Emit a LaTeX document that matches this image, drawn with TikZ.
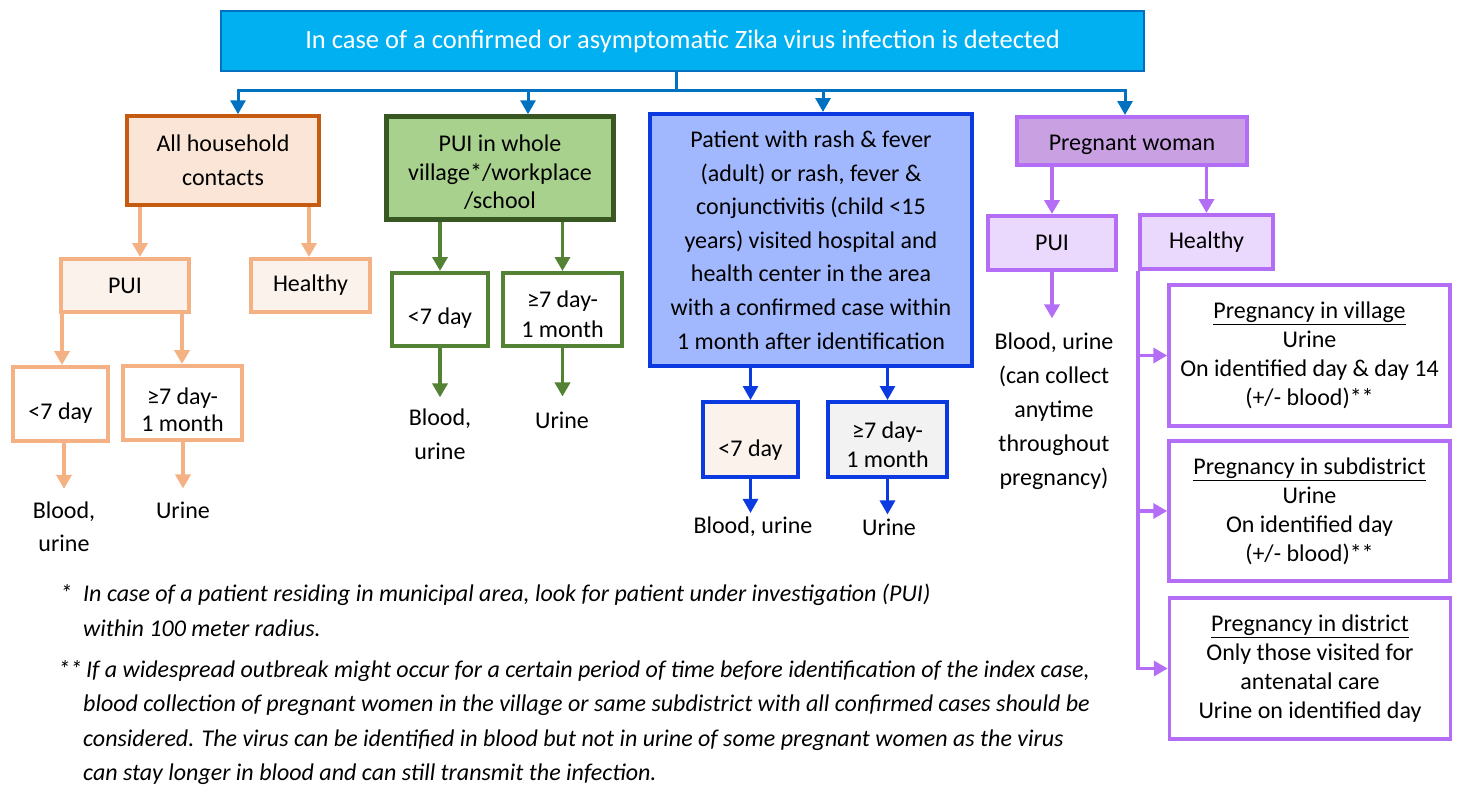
\documentclass[tikz,border=0pt]{standalone}
\usepackage{fontspec}
\setmainfont{Carlito}
\usepackage{tikz}
\usetikzlibrary{arrows.meta}
\definecolor{zfill}{HTML}{00B0F0}
\definecolor{zline}{HTML}{0070C0}
\definecolor{hhfill}{HTML}{FBE5D6}
\definecolor{hhline}{HTML}{C55A11}
\definecolor{olight}{HTML}{F4B183}
\definecolor{ofill}{HTML}{FCF2EC}
\definecolor{gfill}{HTML}{A9D18E}
\definecolor{gdark}{HTML}{385723}
\definecolor{gline}{HTML}{548235}
\definecolor{bfill}{HTML}{A2B8FE}
\definecolor{bline}{HTML}{0B3BE0}
\definecolor{bgrey}{HTML}{F2F2F2}
\definecolor{pline}{HTML}{B46EF6}
\definecolor{pwfill}{HTML}{C9A1E3}
\definecolor{pfill}{HTML}{EAD9FD}

\begin{document}
\begin{tikzpicture}[x=1pt,y=-1pt,
    every node/.style={font=\fontsize{24}{34}\selectfont,align=center,inner sep=0pt},
    arr/.style={line width=3pt,-{Triangle[width=15pt,length=14pt]}},
    zarr/.style={arr,draw=zline},
    oarr/.style={arr,draw=olight,line width=3.5pt},
    garr/.style={arr,draw=gline,line width=3.5pt},
    barr/.style={arr,draw=bline},
    parr/.style={arr,draw=pline,line width=3.5pt},
    obox/.style={draw=olight,fill=ofill,line width=4pt},
    gbox/.style={draw=gline,fill=white,line width=4pt,font=\fontsize{24}{30}\selectfont},
    bsmall/.style={draw=bline,line width=4pt,font=\fontsize{24}{29}\selectfont},
    pbox/.style={draw=pline,fill=pfill,line width=4pt},
    pcase/.style={draw=pline,fill=white,line width=3.5pt,font=\fontsize{24}{29}\selectfont,
      minimum width=281pt,minimum height=141pt},
    note/.style={anchor=north west,align=left,font=\itshape\fontsize{24}{34.5}\selectfont}
  ]
  \useasboundingbox (0,0) rectangle (1458,790);

  % top box
  \node[draw=zline,fill=zfill,line width=2pt,text=white,font=\fontsize{26.5}{32}\selectfont,
        minimum width=923pt,minimum height=60pt] (top) at (682.5,41)
        {In case of a confirmed or asymptomatic Zika virus infection is detected};
  \coordinate (bus) at (676,90);

  % household contacts
  \node[draw=hhline,fill=hhfill,line width=3.5pt,minimum width=192pt,minimum height=89pt]
        (hh) at (223,160.5) {All household\\contacts};
  \node[obox,minimum width=128pt,minimum height=53pt] (opui) at (125,285.5) {PUI};
  \node[obox,minimum width=119pt,minimum height=53pt] (ohl) at (310.5,285.5) {Healthy};
  \node[obox,fill=white,minimum width=95pt,minimum height=74pt] (olt) at (60.5,404)
        {\rule{0pt}{34pt}<7 day};
  \node[obox,fill=white,minimum width=119pt,minimum height=74pt,
        font=\fontsize{24}{27}\selectfont] (oge) at (182.5,403) {\rule{0pt}{31pt}≥7 day-\\1 month};
  \node[font=\fontsize{24}{33}\selectfont] (ob) at (64,527) {Blood,\\urine};
  \node (ou) at (183,510) {Urine};

  % whole village
  \node[draw=gdark,fill=gfill,line width=4.5pt,minimum width=227pt,minimum height=103pt,
        font=\fontsize{24}{28.5}\selectfont] (gv) at (500,168)
        {\rule{0pt}{25.5pt}PUI in whole\\village*/workplace\\/school};
  \node[gbox,minimum width=96pt,minimum height=73pt] (glt) at (440,309.5) {\rule{0pt}{33pt}<7 day};
  \node[gbox,minimum width=119pt,minimum height=73pt] (gge) at (562.5,309.5)
        {\rule{0pt}{26pt}≥7 day-\\1 month};
  \node (gb) at (440,434) {Blood,\\urine};
  \node (gu) at (562,420) {Urine};

  % rash and fever
  \node[draw=bline,fill=bfill,line width=4pt,minimum width=322pt,minimum height=252pt,
        font=\fontsize{24}{33.6}\selectfont] (bp) at (811,240)
        {Patient with rash \& fever\\(adult) or rash, fever \&\\conjunctivitis (child <15\\
         years) visited hospital and\\health center in the area\\with a confirmed case within\\
         1 month after identification};
  \node[bsmall,fill=ofill,minimum width=95pt,minimum height=75pt] (blt) at (750.5,439.5)
        {\rule{0pt}{38pt}<7 day};
  \node[bsmall,fill=bgrey,minimum width=119pt,minimum height=75pt] (bge) at (887.5,439.5)
        {\rule{0pt}{28pt}≥7 day-\\1 month};
  \node (bb) at (753,527) {Blood, urine};
  \node (bu) at (889,527) {Urine};

  % pregnant woman
  \node[pbox,fill=pwfill,minimum width=230pt,minimum height=48pt] (pw) at (1132,141)
        {\rule{0pt}{23.5pt}Pregnant woman};
  \node[pbox,minimum width=128pt,minimum height=54pt] (ppui) at (1052,243) {PUI};
  \node[pbox,minimum width=133pt,minimum height=54pt] (phl) at (1206.5,242) {Healthy};
  \node (pb) at (1054,411) {Blood, urine\\(can collect\\anytime\\throughout\\pregnancy)};
  \node[pcase] (pv) at (1309.5,355.5)
        {\underline{Pregnancy in village}\\Urine\\On identified day \& day 14\\(+/- blood)**};
  \node[pcase,minimum height=140pt] (ps) at (1309.5,511)
        {\underline{Pregnancy in subdistrict}\\Urine\\On identified day\\(+/- blood)**};
  \node[pcase] (pd) at (1310,668.5)
        {\underline{Pregnancy in district}\\Only those visited for\\antenatal care\\Urine on identified day};

  % connectors
  \draw[zarr] (top.south -| bus) -- (bus) -| (238,0 |- hh.north);
  \draw[zarr] (bus) -| (528,0 |- gv.north);
  \draw[zarr] (bus) -| (823,0 |- bp.north);
  \draw[zarr] (bus) -| (1125,0 |- pw.north);

  \draw[oarr] (hh.south -| 140,0) -- (140,0 |- opui.north);
  \draw[oarr] (hh.south -| 309,0) -- (309,0 |- ohl.north);
  \draw[oarr] (opui.south -| 62,0) -- (62,0 |- olt.north);
  \draw[oarr] (opui.south -| 182,0) -- (182,0 |- oge.north);
  \draw[oarr,shorten >=13pt] (olt.south -| ob.north) -- (ob.north);
  \draw[oarr,shorten >=13pt] (oge.south -| ou.north) -- (ou.north);

  \draw[garr] (gv.south -| glt.north) -- (glt.north);
  \draw[garr] (gv.south -| gge.north) -- (gge.north);
  \draw[garr,shorten >=11pt] (glt.south) -- (glt.south |- gb.north);
  \draw[garr,shorten >=15pt] (gge.south) -- (gge.south |- gu.north);

  \draw[barr] (bp.south -| blt.north) -- (blt.north);
  \draw[barr] (bp.south -| bge.north) -- (bge.north);
  \draw[barr,shorten >=4pt] (blt.south) -- (blt.south |- bb.north);
  \draw[barr,shorten >=4pt] (bge.south) -- (bge.south |- bu.north);

  \draw[parr] (pw.south -| ppui.north) -- (ppui.north);
  \draw[parr] (pw.south -| phl.north) -- (phl.north);
  \draw[parr,shorten >=14pt] (ppui.south) -- (ppui.south |- pb.north);
  \draw[parr] (phl.south west) |- (pv.west);
  \draw[parr] (phl.south west) |- (ps.west);
  \draw[parr] (phl.south west) |- (pd.west);

  % footnotes
  \node[note] (fn1) at (60,584)
        {\makebox[23pt][l]{*}In case of a patient residing in municipal area, look for patient under investigation (PUI)\\
         \hspace*{23pt}within 100 meter radius.};
  \node[note] (fn2) at (58,660)
        {\makebox[28pt][l]{**}If a widespread outbreak might occur for a certain period of time before identification of the index case,\\
         \hspace*{25pt}blood collection of pregnant women in the village or same subdistrict with all confirmed cases should be\\
         \hspace*{25pt}considered. The virus can be identified in blood but not in urine of some pregnant women as the virus\\
         \hspace*{25pt}can stay longer in blood and can still transmit the infection.};
\end{tikzpicture}
\end{document}
